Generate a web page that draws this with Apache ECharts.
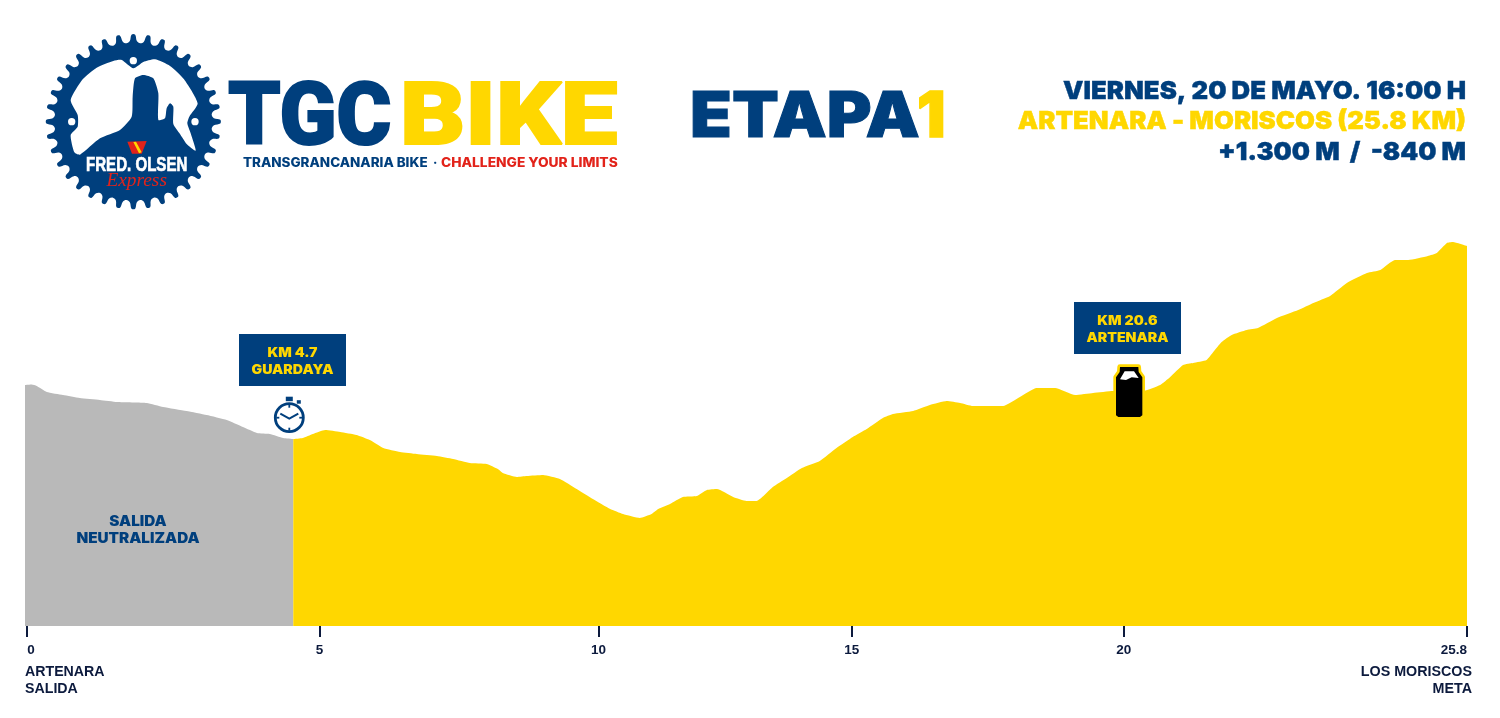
<!DOCTYPE html>
<html><head><meta charset="utf-8">
<style>html,body{margin:0;padding:0;background:#fff}#c{width:1500px;height:718px}</style>
<script src="https://cdn.jsdelivr.net/npm/echarts@6/dist/echarts.min.js"></script>
</head><body><div id="c"></div>
<script>
const BLUE='#003f7d',YELLOW='#ffd700',GRAY='#b9b9b9',INK='#0c1a3d',RED='#e2231a';
// km as drawn on the profile's scale, and estimated height above the baseline
const neutralKm=[0,0.12,0.21,0.39,0.68,0.98,1.34,1.65,2.18,2.47,2.89,3.25,3.61,3.90,4.15,4.38,4.62,4.80];
const neutralHeight=[241,241.5,240,234,231,228,226,224,223,219,215,211,206,199,193,192,188,187];
const raceKm=[4.80,4.97,5.15,5.37,5.64,5.93,6.17,6.41,6.71,7.01,7.37,7.66,7.96,8.26,8.46,8.55,8.80,8.98,9.27,9.57,9.87,10.16,10.47,10.70,11.00,11.21,11.33,11.54,11.77,12.02,12.20,12.38,12.67,12.91,13.09,13.38,13.63,13.90,14.22,14.52,14.81,15.06,15.35,15.53,15.89,16.19,16.49,16.73,16.96,17.50,17.80,18.10,18.43,18.79,19.11,19.47,20.00,20.31,20.49,20.72,20.90,21.14,21.26,21.41,21.59,21.86,22.06,22.40,22.78,23.05,23.35,23.65,24.01,24.25,24.51,24.75,25.10,25.26,25.44,25.55,25.80];
const raceHeight=[187,188,192,196,194,191,186,178,174,172,170,167,163,162,157,153,149,150,151,147,137,127,117,112,108,112,117,122,129,130,136,137,129,125,125,139,148,158,165,178,189,197,208,212,215,221,225,223,220,220,229,238,238,231,233,235,235,241,249,261,263,266,274,284,291,296,298,308,316,323,330,343,353,356,366,366,370,373,383,384,380];
const tickPositions=[0.04,5.27,10.26,14.79,19.66,25.8];
const tickLabels=['0','5','10','15','20','25.8'];
const startNames=['ARTENARA','SALIDA'];
const endNames=['LOS MORISCOS','META'];

const pair=(a,b)=>a.map((v,i)=>[v,b[i]]);
const T=(text,x,y,o={})=>{const fill=o.fill||BLUE;return {type:'text',x,y,scaleX:o.sx||1,scaleY:o.sy||1,silent:true,z:o.z||20,
  style:{text,fill,align:o.align||'left',verticalAlign:'middle',stroke:o.bold?fill:null,lineWidth:o.bold||0,
  fontFamily:o.font||'Inter',fontWeight:o.w||900,fontSize:o.size||14,fontStyle:o.style||'normal'}};};
const R=(x,y,w,h,fill,z)=>({type:'rect',silent:true,z:z||15,shape:{x,y,width:w,height:h},style:{fill}});

// logo, in the coordinates of a 3x crop
const gearPoints=[];const TN=36;
for(let i=0;i<TN;i++){const a=i/TN*Math.PI*2,s=Math.PI*2/TN;
  [[-0.5,236],[-0.25,242],[-0.12,261],[0.12,261],[0.25,242]].forEach(p=>{
    gearPoints.push([310+p[1]*Math.cos(a+p[0]*s),305+p[1]*Math.sin(a+p[0]*s)]);});}
const whiteShape=[[122,240],[158,178],[200,143],[250,123],[275,120],[310,145],[340,126],[375,118],[420,138],[462,178],[503,250],[478,290],[472,310],[482,340],[497,392],[470,372],[450,342],[430,312],[430,260],[420,250],[410,265],[405,295],[385,300],[385,220],[370,175],[340,165],[315,175],[308,230],[305,290],[270,330],[210,355],[150,404],[133,397],[122,345],[143,320],[143,285]];
const logo={type:'group',x:30,y:20,scaleX:1/3,scaleY:1/3,silent:true,children:[
  {type:'polygon',silent:true,shape:{points:gearPoints,smooth:0.35},style:{fill:BLUE}},
  {type:'polygon',silent:true,shape:{points:whiteShape,smooth:0.2},style:{fill:'#fff'}},
  {type:'circle',silent:true,shape:{cx:310,cy:122,r:11},style:{fill:'#fff'}},
  {type:'circle',silent:true,shape:{cx:125,cy:305,r:11},style:{fill:'#fff'}},
  {type:'circle',silent:true,shape:{cx:495,cy:305,r:11},style:{fill:'#fff'}},
  {type:'polygon',silent:true,shape:{points:[[292,365],[350,363],[335,401],[306,401]]},style:{fill:RED}},
  {type:'polygon',silent:true,shape:{points:[[310,366],[318,365],[335,397],[327,400]]},style:{fill:YELLOW}},
  T('FRED. OLSEN',320,436,{font:'Liberation Sans',w:700,size:58,fill:'#fff',align:'center',sx:0.78,bold:2}),
  T('Express',320,484,{font:'Liberation Serif',w:400,size:58,fill:RED,align:'center',style:'italic'})
]};

const watch={type:'group',x:289.3,y:417.7,silent:true,z:20,children:[
  {type:'circle',silent:true,z:20,shape:{cx:0,cy:0,r:14},style:{fill:'#fff',stroke:BLUE,lineWidth:2.8}},
  {type:'rect',silent:true,z:21,shape:{x:-3.5,y:-21,width:7,height:4.5},style:{fill:BLUE}},
  {type:'rect',silent:true,z:21,shape:{x:7.5,y:-17.5,width:4,height:3.5},style:{fill:BLUE}},
  {type:'polyline',silent:true,z:21,shape:{points:[[-9,-4],[0,1],[9,-4]]},style:{stroke:BLUE,lineWidth:2,fill:null}},
  {type:'line',silent:true,z:21,shape:{x1:0,y1:-13,x2:0,y2:-10},style:{stroke:BLUE,lineWidth:1.8}},
  {type:'line',silent:true,z:21,shape:{x1:0,y1:13,x2:0,y2:10},style:{stroke:BLUE,lineWidth:1.8}},
  {type:'line',silent:true,z:21,shape:{x1:-13,y1:0,x2:-10,y2:0},style:{stroke:BLUE,lineWidth:1.8}},
  {type:'line',silent:true,z:21,shape:{x1:13,y1:0,x2:10,y2:0},style:{stroke:BLUE,lineWidth:1.8}}
]};
const bottleOutline=[[180,231],[235,231],[236,246],[247,262],[247,376],[240,381],[175,381],[168,376],[168,262],[179,246]];
const bottle={type:'group',x:1060,y:290,scaleX:1/3,scaleY:1/3,silent:true,z:20,children:[
  {type:'polygon',silent:true,z:20,shape:{points:bottleOutline},style:{fill:YELLOW,stroke:YELLOW,lineWidth:16,lineJoin:'round'}},
  {type:'polygon',silent:true,z:21,shape:{points:bottleOutline},style:{fill:'#000'}},
  {type:'polygon',silent:true,z:22,shape:{points:[[180,268],[194,244],[222,244],[236,264],[215,262],[198,270]]},style:{fill:'#fff'}}
]};

const chart=echarts.init(document.getElementById('c'),null,{renderer:'canvas'});
chart.setOption({
  animation:false,backgroundColor:'#fff',
  grid:{left:25,right:33,top:226,bottom:92,containLabel:false},
  xAxis:{type:'value',min:0,max:25.8,splitLine:{show:false},axisLine:{show:false},
    axisTick:{show:true,customValues:tickPositions,length:11,lineStyle:{color:INK,width:2}},
    axisLabel:{show:true,customValues:tickPositions,margin:17,color:INK,fontFamily:'Liberation Sans',fontWeight:700,fontSize:13.5,
      alignMinLabel:'left',alignMaxLabel:'right',hideOverlap:false,
      formatter:v=>tickLabels[tickPositions.indexOf(v)]}},
  yAxis:{type:'value',min:0,max:400,show:false},
  series:[
    {name:'Salida neutralizada',type:'line',data:pair(neutralKm,neutralHeight),showSymbol:false,smooth:0.15,
      lineStyle:{width:0},areaStyle:{color:GRAY,opacity:1},silent:true,z:2},
    {name:'Etapa 1',type:'line',data:pair(raceKm,raceHeight),showSymbol:false,smooth:0.15,
      lineStyle:{width:0},areaStyle:{color:YELLOW,opacity:1},silent:true,z:2}
  ],
  graphic:{elements:[
    logo,
    T('TGC',228,122,{font:'Roboto',size:88,sx:0.95,bold:2}),
    T('BIKE',400,122,{font:'Roboto',size:88,fill:YELLOW,sx:1.15,bold:2}),
    T('TRANSGRANCANARIA BIKE',243,163,{size:12.5,w:800,sx:1.075}),
    T('·',433,163,{size:12.5,w:800}),
    T('CHALLENGE YOUR LIMITS',441,163,{size:12.5,w:800,fill:RED,sx:1.1}),
    T('ETAPA',690,118,{size:63,sx:1.085,bold:1}),
    T('1',917,118,{size:63,fill:YELLOW,bold:1.5}),
    T('VIERNES, 20 DE MAYO. 16:00 H',1466,91,{size:25,align:'right',sx:1.03,bold:0.4}),
    T('ARTENARA - MORISCOS (25.8 KM)',1466,121,{size:25,align:'right',fill:YELLOW,sx:1.03,bold:0.4}),
    T('+1.300 M  /  -840 M',1466,152,{size:25,align:'right',sx:1.025,bold:0.4}),
    R(239,334,107,52,BLUE),
    T('KM 4.7',292.5,353,{size:13,align:'center',fill:YELLOW,sx:1.09}),
    T('GUARDAYA',292.5,370,{size:13,align:'center',fill:YELLOW,sx:1.09}),
    R(1074,302,107,52,BLUE),
    T('KM 20.6',1127.5,321,{size:13,align:'center',fill:YELLOW,sx:1.09}),
    T('ARTENARA',1127.5,338,{size:13,align:'center',fill:YELLOW,sx:1.09}),
    T('SALIDA',138,522,{size:14,align:'center',sx:1.09}),
    T('NEUTRALIZADA',138,539,{size:14,align:'center',sx:1.09}),
    watch,bottle,
    T(startNames[0],25,672,{font:'Liberation Sans',w:700,size:14.2,fill:INK}),
    T(startNames[1],25,689,{font:'Liberation Sans',w:700,size:14.2,fill:INK}),
    T(endNames[0],1472,672,{font:'Liberation Sans',w:700,size:14.3,fill:INK,align:'right'}),
    T(endNames[1],1472,689,{font:'Liberation Sans',w:700,size:14.3,fill:INK,align:'right'})
  ]}
});
</script></body></html>
